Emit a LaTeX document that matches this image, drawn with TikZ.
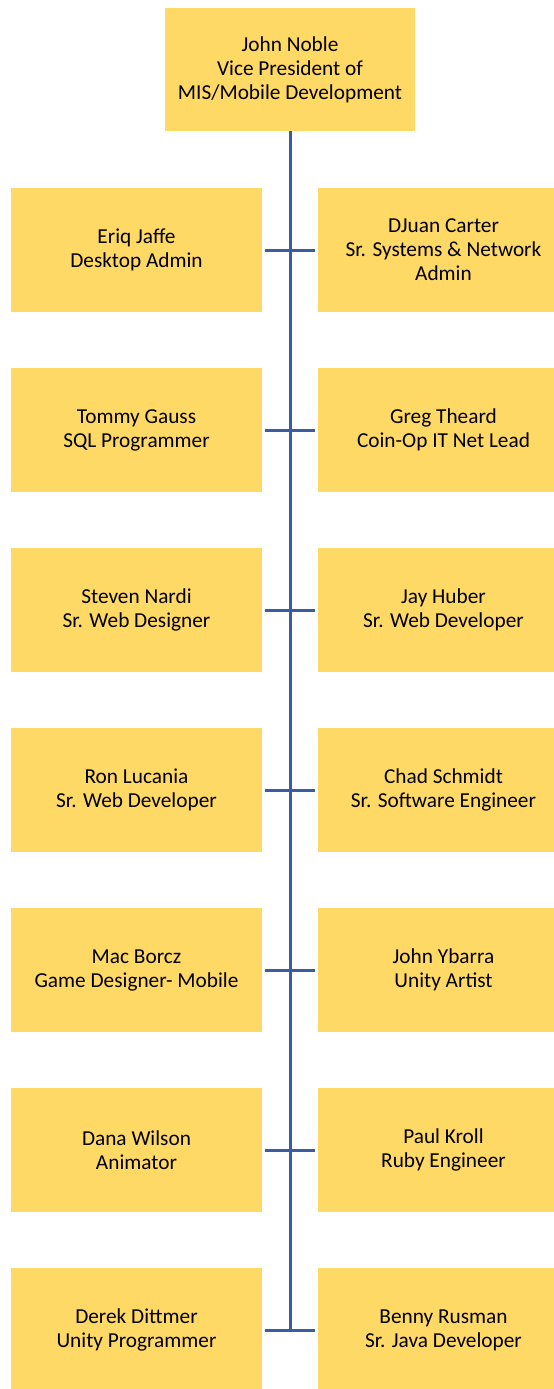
\documentclass[tikz,border=0pt]{standalone}
\usepackage{fontspec}
\setmainfont{Carlito}
\definecolor{boxfill}{HTML}{FFD966}
\definecolor{linkblue}{RGB}{59,92,160}
\begin{document}
\begin{tikzpicture}[line join=bevel,
  box/.style={fill=boxfill,draw=none,inner sep=0pt,align=center,
    font=\fontsize{21.3bp}{24bp}\selectfont},
  lbox/.style={box,minimum width=251bp,minimum height=124bp},
  link/.style={linkblue,line width=3bp},
  tick/.style={link,shorten <=3bp,shorten >=3bp}]
%%
\useasboundingbox (0bp,0bp) rectangle (554bp,-1389bp);
\node (noble) at (290bp,-69.5bp) [box,minimum width=250bp,minimum height=123bp] {John Noble\\Vice President of\\MIS/Mobile Development};
  \node (jaffe) at (136.5bp,-250bp) [lbox] {Eriq Jaffe\\Desktop Admin};
  \node (carter) at (443.5bp,-250bp) [lbox] {DJuan Carter\\Sr. Systems \& Network\\Admin};
  \node (gauss) at (136.5bp,-430bp) [lbox] {Tommy Gauss\\SQL Programmer};
  \node (theard) at (443.5bp,-430bp) [lbox] {Greg Theard\\Coin-Op IT Net Lead};
  \node (nardi) at (136.5bp,-610bp) [lbox] {Steven Nardi\\Sr. Web Designer};
  \node (huber) at (443.5bp,-610bp) [lbox] {Jay Huber\\Sr. Web Developer};
  \node (lucania) at (136.5bp,-790bp) [lbox] {Ron Lucania\\Sr. Web Developer};
  \node (schmidt) at (443.5bp,-790bp) [lbox] {Chad Schmidt\\Sr. Software Engineer};
  \node (borcz) at (136.5bp,-970bp) [lbox] {Mac Borcz\\Game Designer- Mobile};
  \node (ybarra) at (443.5bp,-970bp) [lbox] {John Ybarra\\Unity Artist};
  \node (wilson) at (136.5bp,-1150bp) [lbox] {Dana Wilson\\Animator};
  \node (kroll) at (443.5bp,-1150bp) [lbox] {Paul Kroll\\Ruby Engineer};
  \node (dittmer) at (136.5bp,-1330bp) [lbox] {Derek Dittmer\\Unity Programmer};
  \node (rusman) at (443.5bp,-1330bp) [lbox] {Benny Rusman\\Sr. Java Developer};
  \coordinate (trunkend) at (noble.south |- rusman.west);
  \draw [link] (noble.south) -- (trunkend);
  \draw [tick] (jaffe.east) -- (carter.west);
  \draw [tick] (gauss.east) -- (theard.west);
  \draw [tick] (nardi.east) -- (huber.west);
  \draw [tick] (lucania.east) -- (schmidt.west);
  \draw [tick] (borcz.east) -- (ybarra.west);
  \draw [tick] (wilson.east) -- (kroll.west);
  \draw [tick] (dittmer.east) -- (rusman.west);
%
\end{tikzpicture}
\end{document}
